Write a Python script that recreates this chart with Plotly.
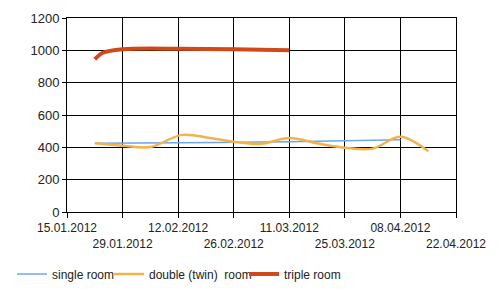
import plotly.graph_objects as go

tick_dates = ["2012-01-15", "2012-01-29", "2012-02-12", "2012-02-26",
              "2012-03-11", "2012-03-25", "2012-04-08", "2012-04-22"]
tick_labels = ["15.01.2012", "29.01.2012", "12.02.2012", "26.02.2012",
               "11.03.2012", "25.03.2012", "08.04.2012", "22.04.2012"]

single_dates = ["2012-01-22", "2012-02-12", "2012-03-04", "2012-03-25", "2012-04-08"]
single_vals = [425, 428, 433, 440, 447]

double_dates = ["2012-01-22", "2012-01-29", "2012-02-05", "2012-02-13", "2012-02-20",
                "2012-02-27", "2012-03-04", "2012-03-11", "2012-03-18", "2012-03-25",
                "2012-04-01", "2012-04-08", "2012-04-15"]
double_vals = [425, 410, 402, 477, 458, 432, 422, 457, 425, 398, 392, 465, 375]

triple_dates = ["2012-01-22", "2012-01-24", "2012-01-29", "2012-02-12", "2012-02-26",
                "2012-03-11"]
triple_vals = [945, 985, 1007, 1010, 1007, 1000]

fig = go.Figure()
fig.add_trace(go.Scatter(x=single_dates, y=single_vals, mode="lines", name="single room",
                         legend="legend",
                         line=dict(color="#6fa6e6", width=1.5, shape="spline")))
fig.add_trace(go.Scatter(x=double_dates, y=double_vals, mode="lines", name="double (twin)  room",
                         legend="legend2",
                         line=dict(color="#f2b24c", width=2.5, shape="spline", smoothing=1.0)))
fig.add_trace(go.Scatter(x=triple_dates, y=triple_vals, mode="lines", name="triple room",
                         legend="legend3",
                         line=dict(color="#d2481a", width=4, shape="spline", smoothing=0.8)))

tick_text = [lab if i % 2 == 0 else "<br>" + lab for i, lab in enumerate(tick_labels)]

leg_common = dict(orientation="h", yanchor="middle", xanchor="left",
                  xref="container", yref="container", y=0.074,
                  font=dict(size=12, color="#222222"), itemwidth=30,
                  bgcolor="rgba(0,0,0,0)")

fig.update_layout(
    width=500, height=296,
    margin=dict(l=67, r=44, t=18, b=84),
    paper_bgcolor="white", plot_bgcolor="white",
    font=dict(family="Liberation Sans, Arial, sans-serif", size=12, color="#222222"),
    showlegend=True,
    legend=dict(x=12 / 500, **leg_common),
    legend2=dict(x=109 / 500, **leg_common),
    legend3=dict(x=244 / 500, **leg_common),
    xaxis=dict(range=["2012-01-15", "2012-04-22"], tickvals=tick_dates, ticktext=tick_text,
               tickangle=0, automargin=False,
               showgrid=True, gridcolor="black", gridwidth=1,
               showline=True, linecolor="black", linewidth=1, mirror=True,
               ticks="outside", ticklen=5, tickcolor="black", zeroline=False,
               tickfont=dict(size=12)),
    yaxis=dict(range=[0, 1200], dtick=200, showgrid=True, gridcolor="black", gridwidth=1,
               automargin=False,
               showline=True, linecolor="black", linewidth=1, mirror=True,
               ticks="outside", ticklen=4, tickcolor="black", zeroline=False,
               tickfont=dict(size=13)),
)

fig.write_html("out.html")
